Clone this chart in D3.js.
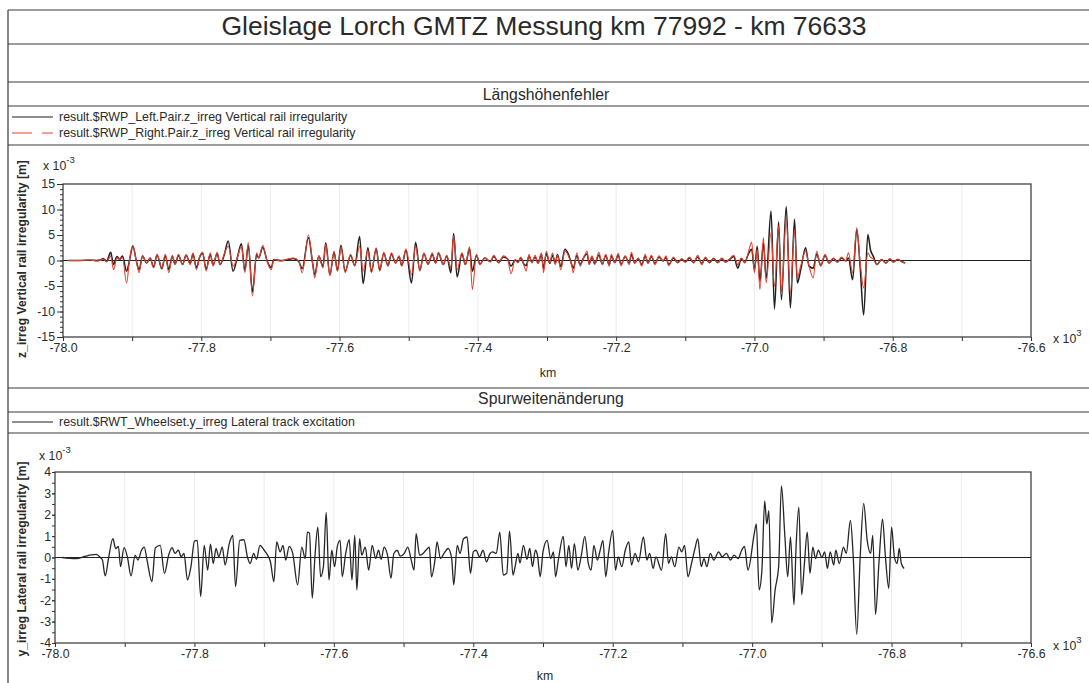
<!DOCTYPE html>
<html>
<head>
<meta charset="utf-8">
<script src="https://cdn.jsdelivr.net/npm/d3@7"></script>
<style>
  body { margin: 0; background: #fff; }
  svg { display: block; font-family: "Liberation Sans", Arial, sans-serif; }
</style>
</head>
<body>
<div id="chart"></div>
<script>
// ---- data (km values are in the axis unit x 10^3, irregularities in units of 10^-3 m) ----
var kmTicks = [-78000, -77900, -77800, -77700, -77600, -77500, -77400, -77300, -77200, -77100, -77000, -76900, -76800, -76700, -76600];
var kmLabels = [-78000, -77800, -77600, -77400, -77200, -77000, -76800, -76600];
var zTicks = [-15, -10, -5, 0, 5, 10, 15];
var yTicks = [-4, -3, -2, -1, 0, 1, 2, 3, 4];

// vertical rail irregularity, shared km positions
var zKm = [
  -77992,-77975,-77960,-77952,-77946,-77942,-77937,-77931,-77927,-77922,
  -77918,-77914,-77908,-77904,-77899,-77894,-77890,-77885,-77879,-77874,
  -77869,-77864,-77857,-77852,-77847,-77842,-77838,-77833,-77827,-77822,
  -77816,-77812,-77807,-77802,-77798,-77793,-77787,-77783,-77777,-77773,
  -77767,-77761,-77754,-77748,-77742,-77737,-77732,-77726,-77720,-77717,
  -77711,-77705,-77699,-77695,-77686,-77677,-77667,-77659,-77654,-77645,
  -77639,-77636,-77630,-77624,-77620,-77614,-77608,-77603,-77598,-77592,
  -77584,-77578,-77571,-77566,-77559,-77554,-77547,-77542,-77536,-77530,
  -77525,-77519,-77514,-77510,-77504,-77496,-77490,-77484,-77478,-77472,
  -77466,-77461,-77457,-77450,-77445,-77439,-77435,-77430,-77423,-77418,
  -77412,-77408,-77402,-77397,-77390,-77382,-77377,-77370,-77363,-77357,
  -77352,-77346,-77342,-77338,-77333,-77330,-77326,-77322,-77317,-77313,
  -77308,-77305,-77301,-77296,-77292,-77288,-77285,-77280,-77274,-77269,
  -77264,-77262,-77257,-77252,-77248,-77242,-77239,-77235,-77231,-77225,
  -77220,-77215,-77210,-77207,-77202,-77197,-77193,-77187,-77181,-77178,
  -77173,-77168,-77163,-77158,-77154,-77149,-77144,-77138,-77132,-77128,
  -77124,-77117,-77111,-77105,-77100,-77094,-77088,-77082,-77076,-77071,
  -77065,-77059,-77053,-77047,-77042,-77036,-77030,-77024,-77019,-77014,
  -77009,-77004,-77000,-76996,-76992,-76987,-76983,-76976,-76971,-76965,
  -76961,-76954,-76948,-76942,-76938,-76933,-76926,-76921,-76915,-76910,
  -76904,-76898,-76892,-76886,-76880,-76874,-76868,-76864,-76858,-76852,
  -76847,-76842,-76836,-76832,-76828,-76823,-76816,-76810,-76804,-76799,
  -76793,-76787,-76782
];
var zLeft = [
  0,0,0.05,0,0.1,0.4,-0.1,1.6,-0.8,0.8,
  0.2,0.9,-2.1,-0.1,2.8,0,-1.8,0.9,-0.5,0.5,
  -1.3,1.1,-1.6,1.0,-1.8,0.9,-0.7,1.0,-0.8,1.1,
  -0.6,1.3,-1.4,0.8,1.4,-1.7,1.2,-0.9,1.4,-0.8,
  1.0,3.8,-2.1,0.5,3.3,-2.0,3.0,-6.2,1.2,0.5,
  2.6,0,-1.4,0.2,0,0.1,0.4,-0.2,-1.6,4.5,
  -0.5,-2.8,0.9,-1.2,3.5,-2.8,1.6,-2.0,3.0,-2.1,
  1.0,-1.0,4.7,-4.5,2.5,-2.2,2.3,-1.9,1.4,-1.0,
  1.3,-0.5,0.8,-1.0,2.0,-4.4,3.6,-1.9,1.3,-0.7,
  1.2,-0.5,1.4,-0.8,0.9,-2.4,5.3,-3.2,1.3,-0.8,
  2.3,-2.1,1.0,-0.7,0.5,-0.2,0.8,-0.4,0.7,0.3,
  -1.1,0.1,-0.3,0.5,-0.8,-1.0,0.9,-0.3,0.7,-0.5,
  1.2,-1.6,1.4,-0.6,1.1,-0.6,1.2,-1.2,2.2,1.2,
  -0.9,-1.5,1.0,-0.8,0.3,1.3,-0.7,0.7,-0.6,1.1,
  -0.7,1.0,-0.9,0.9,-0.4,1.1,-0.8,0.8,-0.6,1.2,
  -0.5,0.4,-0.8,0.9,-0.5,0.8,-0.6,0.7,-0.1,0.6,
  -0.8,0.5,-0.4,0.3,-0.3,0.5,-0.4,0.7,-0.6,0.5,
  -0.4,0.4,-0.4,0.4,-0.3,0.2,0.8,-1.5,0.4,-0.4,
  1.2,2.2,-1.8,2.8,-4.1,3.5,-3.5,9.7,-9.5,7.6,
  -7.7,10.6,-9.3,8.1,-4.4,-1.8,2.5,-1.1,-1.5,1.3,
  -1.0,1.0,-0.5,0.4,-0.3,0.5,-0.1,0.5,-3.75,6.1,
  -1.5,-10.7,5.1,2.0,0.8,-0.8,0.2,-0.5,0.3,-0.3,
  0.2,-0.2,-0.5
];
var zRight = [
  0,0,0.1,-0.1,0,0.3,-0.3,0.9,-1.8,0.5,
  0.2,0.6,-4.4,-0.1,3.0,-0.1,-2.4,0.9,-0.5,0.5,
  -1.45,1.2,-1.45,1.2,-2.4,0.9,-0.8,1.2,-0.8,1.0,
  -0.8,1.5,-1.8,0.9,1.6,-2.1,1.5,-1.1,1.6,-0.8,
  1.2,2.8,-1.1,0.5,2.8,-2.4,3.5,-7.0,1.5,0.5,
  3.0,-0.1,-1.8,0.2,-0.1,0.2,0.5,-0.1,-2.4,5.0,
  -0.5,-3.4,0.9,-1.45,3.2,-3.0,1.8,-2.1,2.7,-2.4,
  1.2,-1.1,2.8,-2.1,2.0,-2.4,2.5,-2.1,1.6,-1.1,
  1.5,-0.5,0.9,-1.1,2.3,-2.8,2.8,-2.1,1.5,-0.8,
  1.5,-0.5,1.6,-0.8,1.0,-1.45,4.8,-1.8,1.5,-0.8,
  2.7,-5.7,1.2,-0.8,0.5,-0.3,1.0,-0.5,0.9,0.3,
  -2.6,0.2,-0.5,0.7,-1.1,-2.1,1.2,-0.5,1.0,-0.6,
  1.5,-2.4,1.8,-0.5,1.5,-0.8,1.0,-1.8,1.8,0.9,
  -1.1,-2.4,1.5,-1.1,0.2,1.8,-0.8,0.9,-0.8,1.6,
  -0.8,1.2,-1.1,1.2,-0.5,1.4,-1.0,0.9,-0.8,1.6,
  -0.5,0.5,-1.1,1.2,-0.6,1.0,-0.8,0.9,-0.1,0.9,
  -1.0,0.7,-0.5,0.3,-0.3,0.7,-0.5,1.0,-0.8,0.7,
  -0.5,0.5,-0.5,0.5,-0.3,0.3,1.0,-0.8,0.5,-0.5,
  1.5,3.6,-2.4,2.2,-5.7,4.5,-4.4,5.5,-5.1,6.8,
  -6.7,8.1,-6.4,6.1,-3.4,-1.0,1.8,-1.1,-3.4,1.8,
  -1.1,1.2,-0.5,0.5,-0.3,0.7,-0.1,1.5,-2.4,6.4,
  -0.5,-5.4,1.5,0.6,0.3,-0.8,0.2,-0.5,0.3,-0.3,
  0.2,-0.2,-0.5
];

// lateral track excitation
var yKm = [
  -77990,-77970,-77957,-77948,-77941,-77935,-77932,-77928,-77923,-77917,
  -77913,-77909,-77906,-77901,-77896,-77891,-77885,-77881,-77876,-77872,
  -77868,-77861,-77856,-77849,-77843,-77837,-77832,-77828,-77823,-77819,
  -77815,-77810,-77805,-77800,-77796,-77791,-77786,-77781,-77777,-77773,
  -77769,-77765,-77760,-77756,-77750,-77745,-77741,-77735,-77729,-77724,
  -77720,-77715,-77711,-77706,-77700,-77695,-77691,-77686,-77682,-77677,
  -77673,-77669,-77664,-77659,-77652,-77646,-77641,-77638,-77635,-77631,
  -77627,-77623,-77619,-77615,-77611,-77607,-77603,-77599,-77595,-77591,
  -77588,-77583,-77578,-77574,-77570,-77567,-77563,-77560,-77555,-77550,
  -77545,-77540,-77536,-77532,-77528,-77523,-77518,-77514,-77509,-77505,
  -77499,-77494,-77489,-77485,-77482,-77477,-77472,-77468,-77463,-77460,
  -77455,-77452,-77447,-77442,-77436,-77431,-77428,-77423,-77419,-77414,
  -77409,-77404,-77400,-77396,-77391,-77386,-77381,-77376,-77372,-77367,
  -77362,-77357,-77352,-77348,-77343,-77340,-77336,-77333,-77328,-77323,
  -77319,-77315,-77311,-77308,-77304,-77300,-77294,-77289,-77285,-77282,
  -77278,-77271,-77267,-77263,-77259,-77255,-77250,-77245,-77240,-77235,
  -77231,-77227,-77222,-77218,-77214,-77210,-77206,-77200,-77196,-77192,
  -77187,-77182,-77177,-77173,-77168,-77163,-77156,-77151,-77147,-77142,
  -77138,-77130,-77124,-77120,-77116,-77111,-77105,-77101,-77097,-77092,
  -77087,-77082,-77078,-77073,-77069,-77065,-77060,-77055,-77048,-77043,
  -77037,-77031,-77026,-77020,-77015,-77011,-77006,-76997,-76994,-76990,
  -76986,-76982,-76979,-76976,-76972,-76967,-76962,-76958,-76953,-76949,
  -76945,-76940,-76937,-76933,-76929,-76925,-76921,-76917,-76913,-76909,
  -76905,-76900,-76896,-76892,-76888,-76883,-76880,-76875,-76869,-76865,
  -76859,-76855,-76850,-76845,-76840,-76835,-76830,-76827,-76823,-76818,
  -76813,-76809,-76804,-76800,-76796,-76792,-76789,-76786,-76782
];
var yLat = [
  0,-0.05,0.05,0.12,0.15,0,-0.12,-0.86,0,0.88,
  0.42,0.52,-0.43,0.46,0,-0.86,0.11,-0.12,0.34,0.49,
  -0.12,-1.13,0.46,0.57,-0.74,0.11,0.46,0.19,0.34,0.03,
  0.19,-1.05,-0.43,0.77,0.8,-1.82,0.57,-0.59,0.62,-0.28,
  0.42,0.03,0.49,-0.35,0.65,1.03,-1.36,0.8,0.83,0.03,
  -0.28,0.19,-0.09,0.57,0.34,0.11,-0.2,-1.13,0.73,0.26,
  0.57,-0.12,0.52,0.19,-1.28,0.49,-0.05,1.19,1.14,-1.9,
  0.11,1.42,-0.9,-0.43,2.11,-1.05,0.34,-0.43,0.52,0.8,
  -0.9,0.19,0.83,-1.05,1.03,-1.51,0.88,0.11,0.49,-0.59,
  0.57,-0.05,0.34,-0.09,0.49,0.11,-0.97,0.19,0.34,0.06,
  0.19,0.49,-0.12,-0.59,1.11,0.11,0.19,0.34,0.49,-0.9,
  -0.12,0.73,-0.05,0.19,0.42,-0.05,-1.28,0.57,0.19,0.88,
  0.96,-0.74,0.26,0.34,0.03,0.34,-0.2,0.19,0.26,0.19,
  1.19,-0.82,-0.74,1.23,-0.82,-0.43,0.19,-0.25,0.57,-0.09,
  0.42,-0.43,0.34,0.11,-0.9,0.26,0.8,-0.05,0.26,-0.9,
  -0.12,0.99,-0.43,0.57,-0.51,0.65,-0.59,0.11,0.99,-0.28,
  -0.59,0.57,-0.12,0.34,0.8,-0.9,0.19,1.27,-0.59,0.03,
  -0.43,0.34,0.73,-0.35,0.19,-0.2,0.96,-0.12,0.19,-0.51,
  0.03,-0.59,1.11,-0.28,0.03,-0.43,0.49,0.26,0.57,-0.9,
  -0.28,0.42,0.88,-0.43,-0.05,-0.43,0.19,-0.12,0.26,0.03,
  0.19,-0.12,0.11,-0.05,0.34,0.52,-0.59,1.11,1.57,-1.51,
  -0.59,2.65,1.57,2.19,-3.06,-1.51,-0.43,3.35,0.96,-0.9,
  0.96,-2.21,0.49,2.35,-1.74,-0.28,1.19,-0.74,0.49,-0.05,
  0.34,0,0.26,-0.51,0.26,-0.35,0.34,-0.28,0.49,0.19,
  1.73,0.03,-3.6,0.03,2.53,0.8,0.19,1.03,-2.67,-0.2,
  1.8,0.11,-1.44,1.42,0.03,-0.28,0.42,-0.28,-0.51
];

// ---- page ----
var W = 1089, H = 683;
var ink = "#2a2a2a";
var svg = d3.select("#chart").append("svg")
    .attr("width", W)
    .attr("height", H);

svg.append("rect").attr("width", W).attr("height", H).attr("fill", "#fff");

// table rules of the printout
[10, 44, 82, 106, 145, 388, 412, 433].forEach(function(yy) {
    svg.append("line")
        .attr("x1", 8).attr("x2", W)
        .attr("y1", yy).attr("y2", yy)
        .attr("stroke", "#3a3a3a").attr("stroke-width", 1.2);
});
svg.append("line")
    .attr("x1", 8).attr("x2", 8)
    .attr("y1", 10).attr("y2", H)
    .attr("stroke", "#3a3a3a").attr("stroke-width", 1.2);

// Title
svg.append("text")
    .attr("x", 544).attr("y", 35)
    .attr("text-anchor", "middle")
    .style("font-size", "26.5px")
    .attr("fill", ink)
    .text("Gleislage Lorch GMTZ Messung km 77992 - km 76633");

// section titles
svg.append("text")
    .attr("x", 546).attr("y", 100)
    .attr("text-anchor", "middle")
    .style("font-size", "15.8px")
    .attr("fill", ink)
    .text("Längshöhenfehler");
svg.append("text")
    .attr("x", 551).attr("y", 404)
    .attr("text-anchor", "middle")
    .style("font-size", "15.8px")
    .attr("fill", ink)
    .text("Spurweitenänderung");

// legends
function legendEntry(yy, color, dash, label) {
    svg.append("line")
        .attr("x1", 12).attr("x2", 53)
        .attr("y1", yy).attr("y2", yy)
        .attr("stroke", color).attr("stroke-width", 1.2)
        .attr("stroke-dasharray", dash);
    svg.append("text")
        .attr("x", 59).attr("y", yy + 4)
        .style("font-size", "12.4px")
        .attr("fill", ink)
        .text(label);
}
legendEntry(117, "#1e1e1e", null, "result.$RWP_Left.Pair.z_irreg Vertical rail irregularity");
legendEntry(133, "#e8412f", "20,10", "result.$RWP_Right.Pair.z_irreg Vertical rail irregularity");
legendEntry(422, "#1e1e1e", null, "result.$RWT_Wheelset.y_irreg Lateral track excitation");

// one plot panel
function drawPanel(p) {
    var x = d3.scaleLinear().domain([-78000, -76600]).range([p.left, p.right]);
    var y = d3.scaleLinear().domain([p.yTicks[0], p.yTicks[p.yTicks.length - 1]]).range([p.bottom, p.top]);
    var g = svg.append("g");

    // faint vertical grid
    g.selectAll(".grid").data(kmTicks.slice(1, -1)).enter().append("line")
        .attr("x1", function(d) { return x(d); })
        .attr("x2", function(d) { return x(d); })
        .attr("y1", p.top).attr("y2", p.bottom)
        .attr("stroke", "#ececec").attr("stroke-width", 1);

    // zero line
    g.append("line")
        .attr("x1", p.left).attr("x2", p.right)
        .attr("y1", y(0)).attr("y2", y(0))
        .attr("stroke", "#222").attr("stroke-width", 1.1);

    // series
    p.series.forEach(function(s) {
        var pts = d3.zip(s.km, s.values);
        g.append("path")
            .datum(pts)
            .attr("fill", "none")
            .attr("stroke", s.color)
            .attr("stroke-width", s.width)
            .attr("stroke-linejoin", "round")
            .attr("d", d3.line()
                .curve(d3.curveMonotoneX)
                .x(function(d) { return x(d[0]); })
                .y(function(d) { return y(d[1]); }));
    });

    // frame
    g.append("rect")
        .attr("x", p.left).attr("y", p.top)
        .attr("width", p.right - p.left).attr("height", p.bottom - p.top)
        .attr("fill", "none").attr("stroke", "#333").attr("stroke-width", 1.2);

    // X axis
    var xAxis = g.append("g")
        .attr("transform", "translate(0," + p.bottom + ")")
        .call(d3.axisBottom(x)
            .tickValues(kmTicks)
            .tickSize(4)
            .tickPadding(2)
            .tickFormat(function(d) { return kmLabels.indexOf(d) >= 0 ? (d / 1000).toFixed(1) : ""; }));
    // Y axis, minor then major
    var yMinor = g.append("g")
        .attr("transform", "translate(" + p.left + ",0)")
        .call(d3.axisLeft(y).tickValues(p.minor).tickSize(3).tickFormat(""));
    var yAxis = g.append("g")
        .attr("transform", "translate(" + p.left + ",0)")
        .call(d3.axisLeft(y).tickValues(p.yTicks).tickSize(p.tickLen).tickPadding(p.tickPad)
            .tickFormat(function(d) { return String(d); }));
    [xAxis, yMinor, yAxis].forEach(function(a) {
        a.select(".domain").remove();
        a.selectAll("line").attr("stroke", "#333");
        a.selectAll("text")
            .attr("fill", ink)
            .style("font-family", "'Liberation Sans', Arial, sans-serif")
            .style("font-size", "12.3px");
    });

    // axis titles
    g.append("text")
        .attr("x", p.kmX).attr("y", p.kmY)
        .attr("text-anchor", "middle")
        .style("font-size", "12.3px")
        .attr("fill", ink)
        .text("km");
    g.append("text")
        .attr("transform", "translate(26," + p.labelY + ") rotate(-90)")
        .attr("text-anchor", "middle")
        .style("font-size", "12.2px")
        .style("font-weight", "bold")
        .attr("fill", ink)
        .text(p.yLabel);

    // multipliers
    var mx = g.append("text")
        .attr("x", 1053).attr("y", p.kmMultY)
        .style("font-size", "12.3px")
        .attr("fill", ink)
        .text("x 10");
    mx.append("tspan").attr("dy", -7).style("font-size", "9.5px").text("3");
    var my = g.append("text")
        .attr("x", p.multX).attr("y", p.multY)
        .style("font-size", "12.3px")
        .attr("fill", ink)
        .text("x 10");
    my.append("tspan").attr("dy", -7).style("font-size", "9.5px").text("-3");
}

drawPanel({
    left: 63, right: 1031, top: 184, bottom: 337,
    yTicks: zTicks,
    minor: d3.range(-15, 16, 1),
    tickLen: 6, tickPad: 2,
    series: [
        { km: zKm, values: zLeft, color: "#1e1e1e", width: 1.5 },
        { km: zKm, values: zRight, color: "#e8412f", width: 1.1 }
    ],
    yLabel: "z_irreg Vertical rail irregularity [m]",
    labelY: 259,
    kmX: 548, kmY: 377,
    kmMultY: 343,
    multX: 43, multY: 170
});

drawPanel({
    left: 55, right: 1031, top: 472, bottom: 643,
    yTicks: yTicks,
    minor: d3.range(-4, 4.01, 0.5),
    tickLen: 3, tickPad: 1,
    series: [
        { km: yKm, values: yLat, color: "#262626", width: 1.3 }
    ],
    yLabel: "y_irreg Lateral rail irregularity [m]",
    labelY: 559,
    kmX: 545, kmY: 680,
    kmMultY: 650,
    multX: 39, multY: 460
});
</script>
</body>
</html>
